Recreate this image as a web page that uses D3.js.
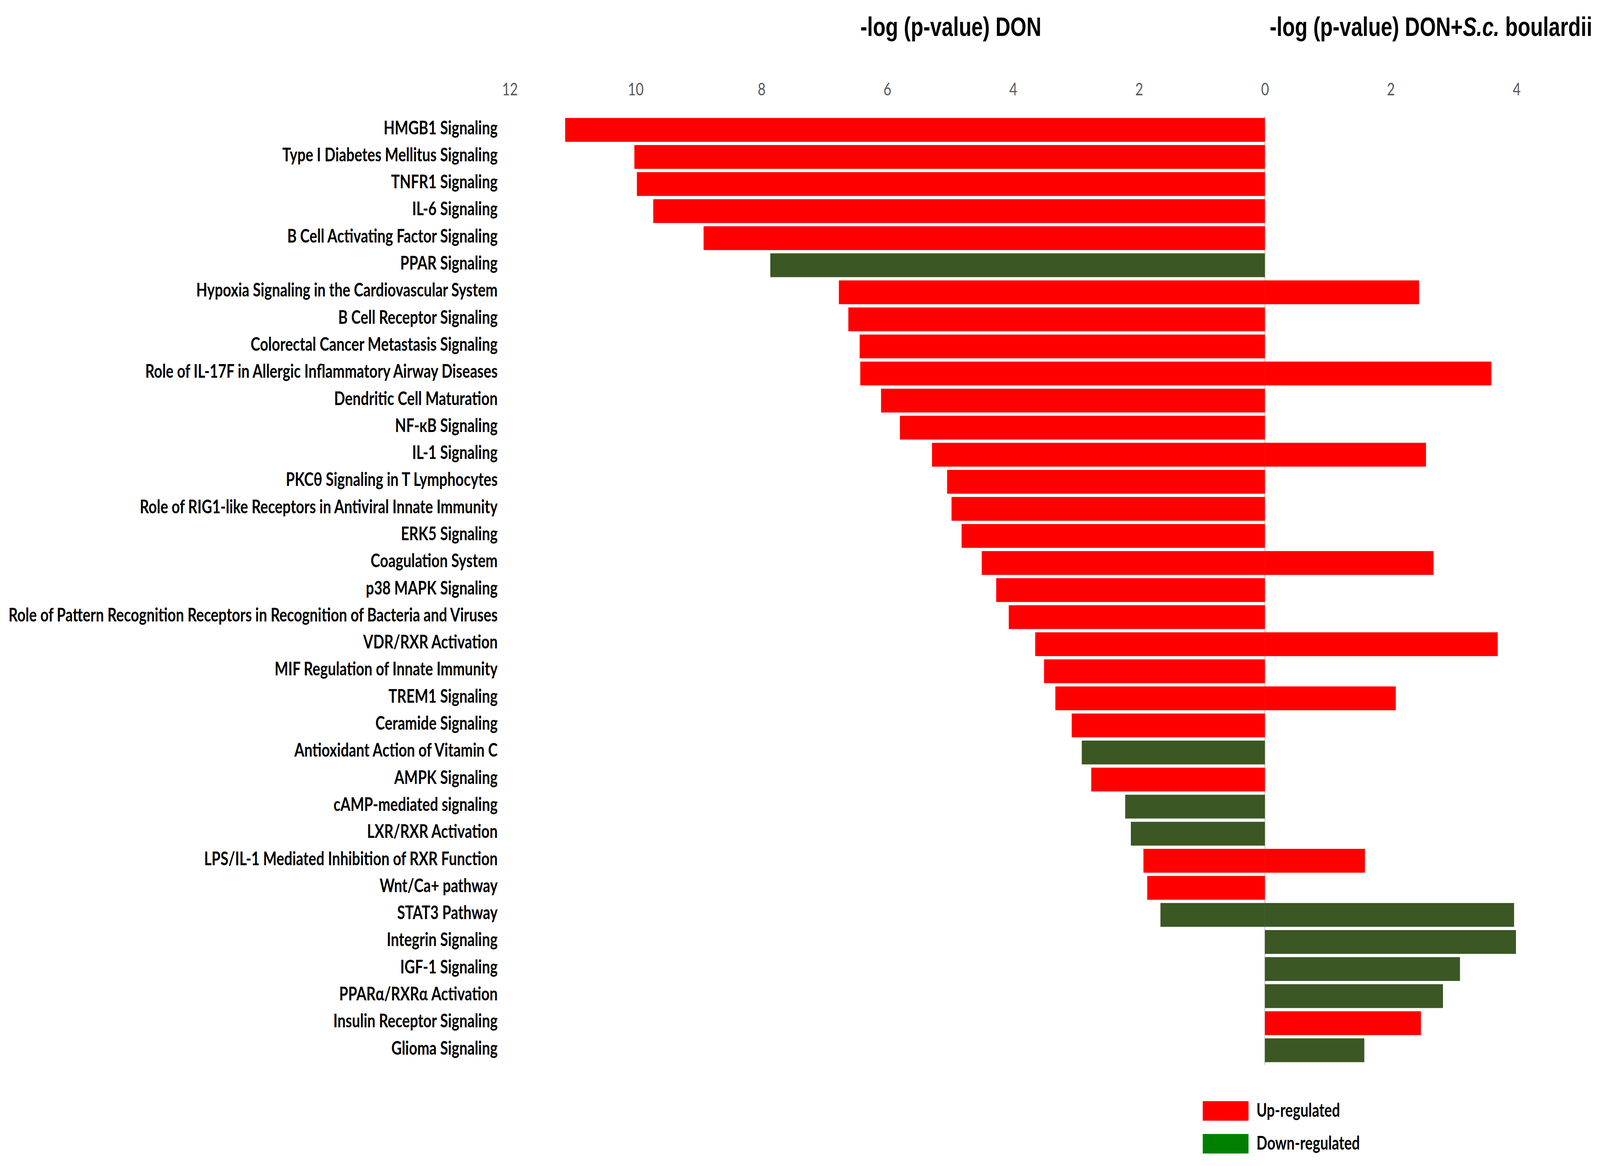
<!DOCTYPE html>
<html>
<head>
<meta charset="utf-8">
<script src="https://cdn.jsdelivr.net/npm/d3@7"></script>
<style>
  html, body { margin: 0; padding: 0; background: #ffffff; overflow: hidden; }
  svg { display: block; width: 100vw; height: 100vh; }
</style>
</head>
<body>
<script>
// ---------------- DATA ----------------
const pathways = [
  "HMGB1 Signaling",
  "Type I Diabetes Mellitus Signaling",
  "TNFR1 Signaling",
  "IL-6 Signaling",
  "B Cell Activating Factor Signaling",
  "PPAR Signaling",
  "Hypoxia Signaling in the Cardiovascular System",
  "B Cell Receptor Signaling",
  "Colorectal Cancer Metastasis Signaling",
  "Role of IL-17F in Allergic Inflammatory Airway Diseases",
  "Dendritic Cell Maturation",
  "NF-\u03baB Signaling",
  "IL-1 Signaling",
  "PKC\u03b8 Signaling in T Lymphocytes",
  "Role of RIG1-like Receptors in Antiviral Innate Immunity",
  "ERK5 Signaling",
  "Coagulation System",
  "p38 MAPK Signaling",
  "Role of Pattern Recognition Receptors in Recognition of Bacteria and Viruses",
  "VDR/RXR Activation",
  "MIF Regulation of Innate Immunity",
  "TREM1 Signaling",
  "Ceramide Signaling",
  "Antioxidant Action of Vitamin C",
  "AMPK Signaling",
  "cAMP-mediated signaling",
  "LXR/RXR Activation",
  "LPS/IL-1 Mediated Inhibition of RXR Function",
  "Wnt/Ca+ pathway",
  "STAT3 Pathway",
  "Integrin Signaling",
  "IGF-1 Signaling",
  "PPAR\u03b1/RXR\u03b1 Activation",
  "Insulin Receptor Signaling",
  "Glioma Signaling"
];

// -log(p-value) for DON (drawn to the left)
const donValues = [
  11.12, 10.02, 9.98, 9.72, 8.92, 7.86, 6.77, 6.62, 6.44, 6.43,
  6.10, 5.80, 5.29, 5.05, 4.98, 4.82, 4.50, 4.27, 4.07, 3.65,
  3.51, 3.33, 3.07, 2.91, 2.76, 2.22, 2.13, 1.93, 1.87, 1.66,
  0, 0, 0, 0, 0
];

// -log(p-value) for DON + S.c. boulardii (drawn to the right)
const dsbValues = [
  0, 0, 0, 0, 0, 0, 2.45, 0, 0, 3.60,
  0, 0, 2.56, 0, 0, 0, 2.68, 0, 0, 3.70,
  0, 2.08, 0, 0, 0, 0, 0, 1.59, 0, 3.96,
  3.99, 3.10, 2.83, 2.48, 1.58
];

// regulation direction of each pathway
const regulation = [
  "up", "up", "up", "up", "up", "down", "up", "up", "up", "up",
  "up", "up", "up", "up", "up", "up", "up", "up", "up", "up",
  "up", "up", "up", "down", "up", "down", "down", "up", "up", "down",
  "down", "down", "down", "up", "down"
];

const tickValues = [-12, -10, -8, -6, -4, -2, 0, 2, 4];

const legendItems = ["Up-regulated", "Down-regulated"];

// ---------------- STYLE ----------------
const W = 5276, H = 2985;
const barColor = { up: "#ff0000", down: "#3b5724" };
const legendColor = { "Up-regulated": "#ff0000", "Down-regulated": "#008000" };

const svg = d3.select("body").append("svg")
  .attr("viewBox", `0 0 ${W} ${H}`)
  .attr("preserveAspectRatio", "none");

svg.append("rect").attr("width", W).attr("height", H).attr("fill", "#ffffff");

const x = d3.scaleLinear().domain([-12, 4]).range([1681, 5001]);
const y = d3.scaleBand().domain(pathways).range([293.7, 2727.5]).padding(0.12);

const rows = pathways.map((p, i) => ({
  name: p, don: donValues[i], dsb: dsbValues[i], reg: regulation[i]
}));

// titles
svg.append("text")
  .attr("x", 2837).attr("y", 92)
  .attr("font-family", "'Liberation Sans', Arial, sans-serif")
  .attr("font-weight", "bold").attr("font-size", 68)
  .attr("fill", "#000")
  .text("-log (p-value) DON");

const t2 = svg.append("text")
  .attr("x", 4187).attr("y", 92)
  .attr("font-family", "'Liberation Sans', Arial, sans-serif")
  .attr("font-weight", "bold").attr("font-size", 68)
  .attr("fill", "#000");
t2.append("tspan").text("-log (p-value) DON+");
t2.append("tspan").attr("font-style", "italic").text("S.c.");
t2.append("tspan").text(" boulardii");

// top axis (tick labels only)
const axis = d3.axisTop(x)
  .tickValues(tickValues)
  .tickFormat(d => String(Math.abs(d)))
  .tickSize(0)
  .tickPadding(0);

const axG = svg.append("g").attr("transform", "translate(0,244)").call(axis);
axG.select(".domain").remove();
axG.selectAll("text")
  .attr("font-family", "Lato, 'Open Sans', sans-serif")
  .attr("font-size", 45)
  .attr("font-weight", 400)
  .attr("fill", "#595959")
  .attr("dy", 0);

// zero line
svg.append("line")
  .attr("x1", x(0)).attr("x2", x(0))
  .attr("y1", 298).attr("y2", 2726)
  .attr("stroke", "#c8c8c8").attr("stroke-width", 3);

// bars left (DON)
svg.append("g").selectAll("rect")
  .data(rows.filter(d => d.don > 0))
  .join("rect")
  .attr("x", d => x(-d.don))
  .attr("width", d => x(0) - x(-d.don))
  .attr("y", d => y(d.name))
  .attr("height", y.bandwidth())
  .attr("fill", d => barColor[d.reg]);

// bars right (DON + S.c. boulardii)
svg.append("g").selectAll("rect")
  .data(rows.filter(d => d.dsb > 0))
  .join("rect")
  .attr("x", x(0))
  .attr("width", d => x(d.dsb) - x(0))
  .attr("y", d => y(d.name))
  .attr("height", y.bandwidth())
  .attr("fill", d => barColor[d.reg]);

// category labels
svg.append("g").selectAll("text")
  .data(rows)
  .join("text")
  .attr("x", 1641)
  .attr("y", d => y(d.name) + y.bandwidth() / 2 + 11)
  .attr("text-anchor", "end")
  .attr("font-family", "Lato, 'Open Sans', sans-serif")
  .attr("font-weight", "bold")
  .attr("font-size", 47.5)
  .attr("fill", "#000")
  .text(d => d.name);

// legend
const lg = svg.append("g").selectAll("g")
  .data(legendItems)
  .join("g")
  .attr("transform", (d, i) => `translate(3966,${2819 + i * 84})`);
lg.append("rect")
  .attr("width", 151).attr("height", 50)
  .attr("fill", d => legendColor[d]);
lg.append("text")
  .attr("x", 177).attr("y", 40)
  .attr("font-family", "Lato, 'Open Sans', sans-serif")
  .attr("font-weight", "bold")
  .attr("font-size", 47)
  .attr("fill", "#000")
  .text(d => d);
</script>
</body>
</html>
